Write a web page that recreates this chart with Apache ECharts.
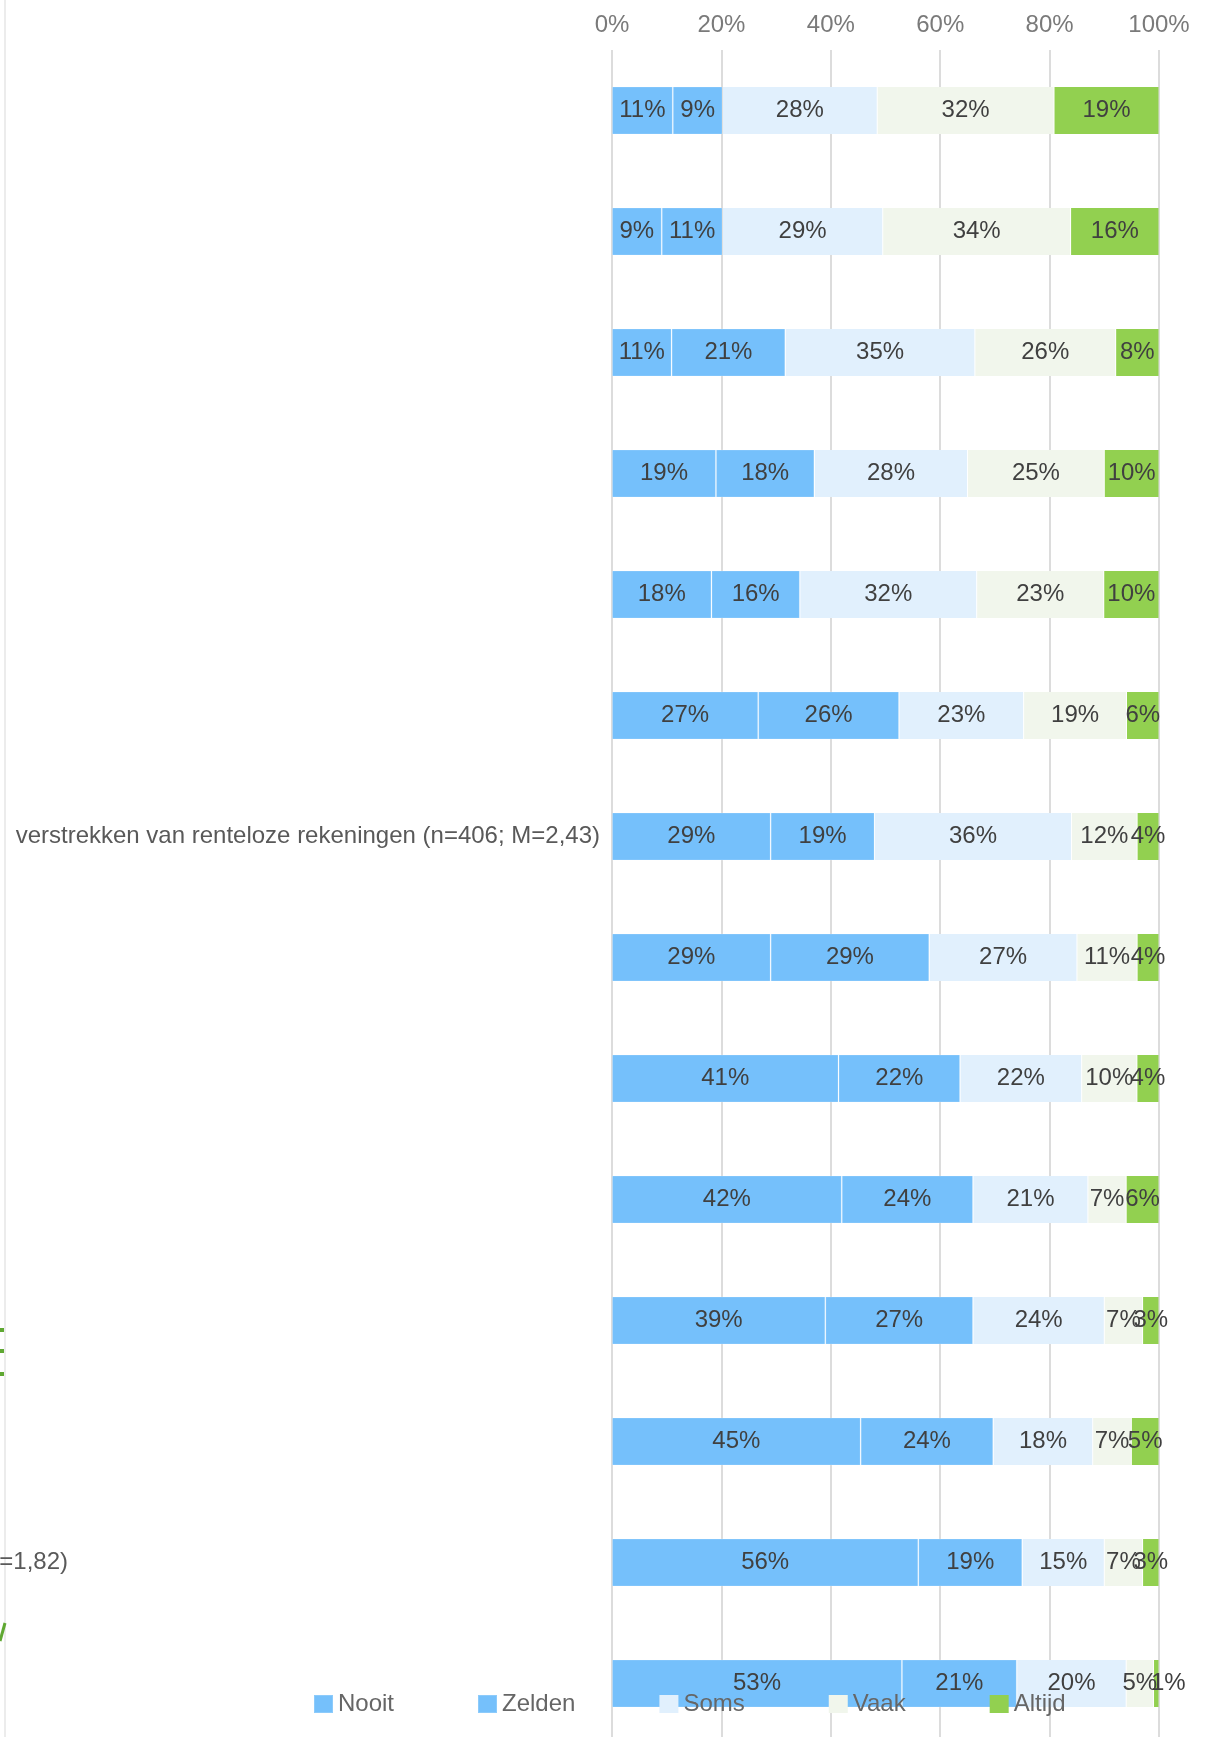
<!DOCTYPE html>
<html>
<head>
<meta charset="utf-8">
<script src="https://cdn.jsdelivr.net/npm/echarts@6/dist/echarts.min.js"></script>
<style>
  html, body { margin: 0; padding: 0; background: #ffffff; }
  #chart { width: 1205px; height: 1737px; }
</style>
</head>
<body>
<div id="chart"></div>
<script>
// Visible (cropped) category label texts, top to bottom
const categories = [
  '', '', '', '', '', '',
  'verstrekken van renteloze rekeningen (n=406; M=2,43)',
  '', '', '', '', '',
  '=1,82)',
  ''
];
const seriesNames = ['Nooit', 'Zelden', 'Soms', 'Vaak', 'Altijd'];
// Percentages as labelled in the bars
const nooit  = [11,  9, 11, 19, 18, 27, 29, 29, 41, 42, 39, 45, 56, 53];
const zelden = [ 9, 11, 21, 18, 16, 26, 19, 29, 22, 24, 27, 24, 19, 21];
const soms   = [28, 29, 35, 28, 32, 23, 36, 27, 22, 21, 24, 18, 15, 20];
const vaak   = [32, 34, 26, 25, 23, 19, 12, 11, 10,  7,  7,  7,  7,  5];
const altijd = [19, 16,  8, 10, 10,  6,  4,  4,  4,  6,  3,  5,  3,  1];
const xTicks = [0, 20, 40, 60, 80, 100];

const allValues = [nooit, zelden, soms, vaak, altijd];
const colors = ['#75c0fb', '#75c0fb', '#e1f0fd', '#f1f6ec', '#92d050'];
const FONT = '"Liberation Sans", Arial, sans-serif';

// 100% stacked: each row normalised to its total
const totals = categories.map((_, i) => allValues.reduce((s, arr) => s + arr[i], 0));

const series = allValues.map((arr, k) => ({
  name: seriesNames[k],
  type: 'bar',
  stack: 'total',
  barWidth: 48,
  itemStyle: {
    color: colors[k],
    borderColor: k < 2 ? 'rgba(255,255,255,0.18)' : 'rgba(255,255,255,0)',
    borderWidth: 1
  },
  label: {
    show: true,
    position: 'inside',
    color: '#404040',
    fontSize: 24,
    fontFamily: FONT,
    formatter: p => arr[p.dataIndex] + '%'
  },
  data: arr.map((v, i) => {
    const item = { value: v / totals[i] * 100 };
    // the tiny last segment's label sits just right of the bar end
    if (k === 4 && v <= 1) item.label = { offset: [12, 0] };
    return item;
  })
}));

const chart = echarts.init(document.getElementById('chart'), null, { renderer: 'canvas' });
chart.setOption({
  animation: false,
  backgroundColor: '#ffffff',
  color: colors,
  textStyle: { fontFamily: FONT },
  grid: {
    left: 612, right: 46, top: 50, height: 1694,
    containLabel: false,
    outerBoundsMode: 'none'
  },
  legend: {
    data: seriesNames,
    left: 308,
    top: 1687,
    icon: 'rect',
    itemWidth: 19,
    itemHeight: 18,
    itemGap: 83,
    textStyle: { fontSize: 24, color: '#666666', fontFamily: FONT }
  },
  xAxis: {
    type: 'value',
    position: 'top',
    min: xTicks[0],
    max: xTicks[xTicks.length - 1],
    interval: 20,
    axisLine: { show: false },
    axisTick: { show: false },
    splitLine: { show: true, lineStyle: { color: '#dcdcdc', width: 2 } },
    axisLabel: {
      margin: 13,
      fontSize: 24,
      color: '#7a7a7a',
      fontFamily: FONT,
      formatter: v => v + '%'
    }
  },
  yAxis: {
    type: 'category',
    inverse: true,
    data: categories,
    axisLine: { show: false },
    axisTick: { show: false },
    axisLabel: {
      margin: 12,
      fontSize: 24,
      color: '#595959',
      fontFamily: FONT,
      formatter: (v, i) => i === 12 ? '{far|' + categories[i] + '}' : categories[i],
      rich: {
        far: { fontSize: 24, color: '#595959', fontFamily: FONT, padding: [0, 532, 0, 0] }
      }
    }
  },
  graphic: [
    { type: 'line', shape: { x1: 5, y1: 0, x2: 5, y2: 1737 }, style: { stroke: '#ececec', lineWidth: 2 }, silent: true },
    { type: 'rect', shape: { x: 0, y: 1328, width: 4, height: 4 }, style: { fill: '#5fa832' }, silent: true },
    { type: 'rect', shape: { x: 0, y: 1349, width: 4, height: 4 }, style: { fill: '#5fa832' }, silent: true },
    { type: 'rect', shape: { x: 0, y: 1372, width: 4, height: 4 }, style: { fill: '#5fa832' }, silent: true },
    { type: 'line', shape: { x1: 0, y1: 1641, x2: 5, y2: 1623 }, style: { stroke: '#5fa832', lineWidth: 3 }, silent: true }
  ],
  series: series
});
</script>
</body>
</html>
